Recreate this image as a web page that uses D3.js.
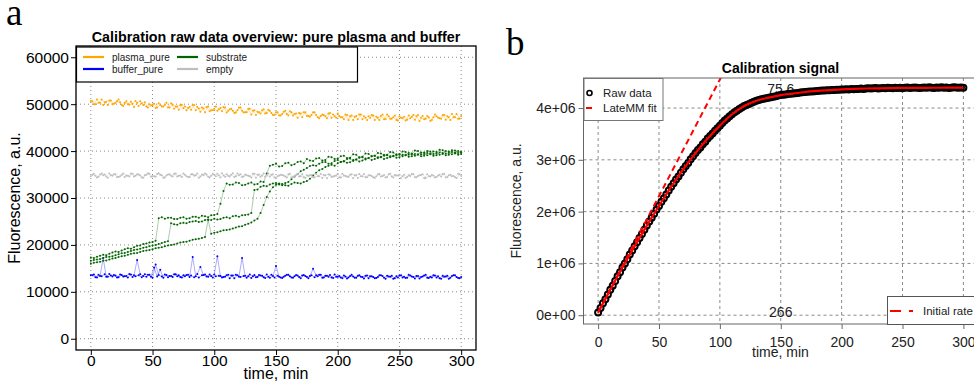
<!DOCTYPE html>
<html>
<head>
<meta charset="utf-8">
<script src="https://cdn.jsdelivr.net/npm/d3@7"></script>
<style>
  body { margin: 0; background: #fff; }
  svg { display: block; font-family: "Liberation Sans", Arial, sans-serif; }
</style>
</head>
<body>
<svg id="chart" width="974" height="383"></svg>
<script>
// ---------- panel a: raw calibration traces, 2.5 min reads, replicate wells ----------
const gridA = d3.range(0, 301, 2.5);     // 0 ... 300
const gridB = d3.range(1.25, 300, 2.5);  // 1.25 ... 298.75

const plasmaA = [50700,50000,51000,50300,49800,50500,50800,50000,50300,51000,
  49800,50300,50000,50500,49400,50300,50600,49800,49500,50000,
  49800,49200,50200,49500,49900,49300,50200,49000,49500,49800,
  49200,48700,49400,49800,48700,49100,49300,48300,49500,48700,
  49000,48600,49200,49400,48200,48900,48600,48200,49300,48600,
  48300,49000,47800,48700,48400,48000,48900,48100,48600,47700,
  48300,47600,47900,48600,47600,48300,47900,47100,48000,48300,
  47500,47300,48300,47700,47000,47800,47400,48000,47100,47400,
  48000,47200,46800,47700,47400,46600,47500,47800,46800,47100,
  47400,47700,46600,47100,47500,46800,47800,46900,47200,46600,
  47400,47000,46500,47600,47300,46700,47700,47100,46800,47500,
  46400,47200,47400,47000,47700,46700,47200,47900,47200,46900,
  47500];
const plasmaB = [50600,50000,50300,51000,50400,49800,50800,50100,50600,50400,
  49600,50600,49900,50100,50700,49600,50200,50400,49300,49700,
  50100,49300,49800,49500,50300,49300,49900,49500,48800,49900,
  49500,49200,48800,49800,49400,48400,49100,49400,48500,48700,
  49500,48900,48500,49300,48600,49000,48100,48700,49300,48200,
  48300,49000,48600,47700,48300,48700,48000,48800,48100,47700,
  48300,47600,48400,47900,48500,47600,48000,48100,47200,48300,
  47500,47700,48300,47200,47500,47700,47000,48100,47800,47100,
  47500,47200,47800,46600,47600,47300,46800,47800,47400,46600,
  47100,47600,47300,46600,47800,46800,47400,46900,47600,46500,
  47100,47300,46700,47000,47700,47400,46400,47500,46900,47200,
  46600,47800,47100,46900,47700,47400,46600,47200,47900,46900];

const bufferA = [13520,13700,13040,13400,17200,13220,13820,13280,13460,13100,
  13580,13340,13040,13700,13520,16800,13760,13400,13220,13640,
  12980,15800,13580,13280,13700,13100,13400,13760,13340,13160,
  13520,13580,13160,17400,13340,13040,13520,13700,13220,13400,
  13720,17600,13360,13180,13540,12880,13480,13660,13240,17200,
  13420,13300,12940,13600,13180,13480,13120,13720,13000,13360,
  15500,13240,12940,13420,13660,13060,13300,13480,12880,13600,
  13180,13360,14900,13540,13660,13000,13420,13240,13060,13720,
  13200,13080,13500,12840,13380,13260,13020,13560,13140,13440,
  12900,13320,12900,13140,13560,13020,13440,13200,12780,13320,
  13500,13080,12960,13620,13260,12840,13380,13140,13500,13020,
  13200,13560,13080,12900,13440,13260,12780,13380,13560,12960,
  13140];
const bufferB = [13520,13100,13640,13340,13760,13220,13460,13580,13040,13700,
  13280,13400,13820,13160,13340,13520,13100,13760,13640,13220,
  15200,13280,14700,12980,13580,13400,13160,13760,13520,13040,
  13340,13640,13460,13100,13820,15300,13580,13280,13700,13040,
  13300,13420,13060,13240,13660,13480,12880,13540,13180,13360,
  13000,13720,13300,13120,13600,13420,12940,13240,13660,13060,
  13420,13060,13240,13660,13300,13000,13600,13180,13480,13360,
  12880,13540,13120,13300,13660,13060,13420,13600,12940,13240,
  13380,12900,13260,13080,13620,13020,13440,13200,12840,13500,
  13320,13140,12960,13560,13380,12780,13260,13440,12900,13080,
  13560,13200,13020,13500,13140,13380,12840,13260,13620,12960,
  13080,13500,13320,12780,13200,13440,13020,13560,13140,12900];

const substrate1 = [17300,17200,17500,17700,17900,17800,18100,18400,18600,18500,
  18800,19100,19300,19200,19500,19800,19900,20200,20300,20500,
  20600,20900,25700,25900,25600,25800,25800,25500,25500,25800,
  25900,25600,25700,26000,26000,25800,26200,26100,25900,26300,
  26400,26600,28800,31500,33100,32800,32900,33300,33200,32700,
  32800,33100,33300,32900,33000,33500,33400,35200,36900,37100,
  37300,36700,36800,37400,37500,37000,37200,37700,37800,37400,
  38300,38000,37900,38400,38500,38000,38100,38800,38700,38300,
  38400,38900,39000,38500,38600,39300,39200,38700,38800,39500,
  39400,38900,39000,39600,39500,39000,39100,39800,39700,39100,
  39200,39900,39800,39200,39300,40100,40000,39300,39400,40000,
  39900,39400,39500,40300,40200,39500,39600,40200,40100,39600,
  39700];
const substrate2 = [16600,16800,16900,17000,17200,17400,17500,17600,17800,18000,
  18200,18300,18500,18700,18900,19000,19200,19400,19500,19700,
  19900,20000,20200,20400,20600,20800,24600,24400,24300,24600,
  24700,24600,24900,25000,25100,24900,25000,25300,25400,25300,
  25600,25400,25500,25800,25900,25700,26100,26200,26000,26300,
  26400,26500,26800,31700,31800,32400,32600,32500,32900,33100,
  33200,32900,32700,33200,33400,34000,34600,35100,35700,36000,
  36400,36800,37000,36900,37300,37600,37700,37300,37400,37900,
  38100,37700,37800,38300,38400,37900,38200,38600,38700,38200,
  38500,38900,39000,38500,38700,39200,39200,38700,38900,39300,
  39400,38900,39100,39600,39500,39000,39200,39700,39700,39100,
  39300,39900,39800,39200,39400,40000,39900,39300,39500,40000,
  39800];
const substrate3 = [16000,16200,16300,16400,16600,16700,16900,17100,17200,17400,
  17600,17700,17900,18100,18200,18300,18500,18700,18800,18900,
  19100,19300,19400,19500,19700,19900,20000,20100,20300,20500,
  20600,20700,20900,21100,21200,21300,21500,21700,25300,22400,
  22600,22700,22900,23100,23200,23300,23500,23700,23900,24000,
  24300,24500,24800,25200,25600,26800,28500,30200,31400,32300,
  32800,33100,33000,32700,32600,33000,33300,33200,33100,33400,
  33600,34100,34800,35400,35900,36200,36600,36900,37100,36900,
  37400,37700,37900,37500,37600,38100,38200,37800,38000,38400,
  38500,38100,38300,38700,38800,38300,38500,38900,39000,38600,
  38700,39200,39200,38800,38900,39400,39300,38900,39000,39600,
  39500,39000,39100,39700,39600,39100,39200,39800,39700,39200,
  39400];

const emptyA = [34660,35150,34380,35010,34870,34590,35220,34730,35080,34450,
  34940,34450,34730,35220,34590,35080,34800,34310,34940,35150,
  34660,34520,35290,34870,34380,35010,34730,35150,34590,34800,
  35220,34660,34450,35080,34870,34310,35010,35220,34520,34730,
  34940,35150,34380,34800,35080,34590,35290,34660,34870,34450,
  35010,34730,34380,35150,34940,34520,35220,34800,34590,35080,
  34210,34770,34910,34560,35050,34350,34700,35120,34630,34420,
  34840,34910,34420,35120,34630,34280,34840,35050,34490,34700,
  35190,34350,34770,34560,34980,34210,34910,35120,34630,34420,
  34840,34700,34280,35050,34560,34910,34490,35190,34350,34770,
  34980,34630,34280,34840,35120,34420,34700,34910,34210,35050,
  34560,34770,34490,34980,35120,34350,34840,34630,34420,35190,
  34700];
const emptyB = [34940,34730,34520,35220,35010,34310,34870,35080,34450,34660,
  35220,34800,34590,35150,34730,35010,34380,34870,35290,34520,
  34660,35150,34940,34310,34800,35080,34590,35220,34730,34450,
  34940,34450,35080,34730,35220,34590,34870,35010,34380,35150,
  34660,34800,35290,34520,34730,34940,34450,35220,35080,34590,
  34870,34660,35150,34310,35010,34800,34520,35220,34940,34380,
  34630,34980,34770,34350,35190,34490,34910,34560,35050,34280,
  34700,34840,34420,34630,35120,34910,34210,34980,34560,34770,
  34350,35190,34700,34490,35050,34840,34280,34630,35120,34420,
  34840,34420,34630,35120,34700,34350,35050,34560,34910,34770,
  34210,34980,34490,34700,35120,34420,34840,35050,34280,34630,
  34910,34350,34770,34560,35190,34490,34980,34700,34280,35050];

const seriesA = [
  { name: "plasma_pure", color: "#FFA500", reps: [[gridA, plasmaA], [gridB, plasmaB]] },
  { name: "buffer_pure", color: "#0000FF", reps: [[gridA, bufferA], [gridB, bufferB]] },
  { name: "substrate",   color: "#006400", reps: [[gridA, substrate1], [gridA, substrate2], [gridA, substrate3]] },
  { name: "empty",       color: "#BEBEBE", reps: [[gridA, emptyA], [gridB, emptyB]] }
];
const xTicksA = [0, 50, 100, 150, 200, 250, 300];
const yTicksA = [0, 10000, 20000, 30000, 40000, 50000, 60000];

// ---------- panel b: calibration signal (fluorescence in millions) ----------
const rawTime = d3.range(0, 301, 2);
const rawSignal = [
  0.05,0.14,0.23,0.31,0.40,0.49,0.57,0.66,0.75,0.83,
  0.92,1.00,1.08,1.17,1.25,1.33,1.41,1.49,1.57,1.65,
  1.73,1.81,1.88,1.96,2.04,2.11,2.19,2.26,2.33,2.41,
  2.48,2.55,2.62,2.68,2.75,2.82,2.88,2.94,3.01,3.07,
  3.13,3.19,3.24,3.30,3.35,3.41,3.46,3.51,3.56,3.61,
  3.66,3.71,3.76,3.80,3.84,3.88,3.92,3.95,3.98,4.01,
  4.04,4.06,4.08,4.10,4.12,4.14,4.155,4.17,4.18,4.19,
  4.20,4.21,4.22,4.23,4.24,4.25,4.255,4.26,4.27,4.275,
  4.28,4.285,4.29,4.30,4.305,4.31,4.315,4.32,4.32,4.325,
  4.33,4.335,4.34,4.34,4.345,4.345,4.35,4.35,4.355,4.355,
  4.36,4.36,4.365,4.36,4.37,4.365,4.37,4.37,4.375,4.37,
  4.375,4.38,4.375,4.38,4.385,4.375,4.38,4.385,4.38,4.39,
  4.385,4.38,4.39,4.385,4.39,4.38,4.39,4.395,4.385,4.39,
  4.395,4.39,4.385,4.39,4.395,4.39,4.40,4.39,4.385,4.395,
  4.39,4.40,4.39,4.395,4.385,4.39,4.40,4.395,4.39,4.395,
  4.39];
const fitTime = d3.range(0, 301, 10);
const fitSignal = [0.05,0.49,0.92,1.33,1.73,2.11,2.48,2.82,3.13,3.41,
  3.66,3.88,4.04,4.14,4.20,4.25,4.28,4.31,4.33,4.345,
  4.36,4.37,4.377,4.381,4.385,4.388,4.39,4.391,4.392,4.393,4.393];
const initTime = [0, 120];
const initSignal = [0.05, 5.45];
const notes = [{ t: 150, v: 4.37, text: "75.6" }, { t: 150, v: 0.06, text: "266" }];
const xTicksB = [0, 50, 100, 150, 200, 250, 300];
const yTicksB = [0, 1, 2, 3, 4];

const svg = d3.select("#chart");

// ================= panel a =================
const ax = d3.scaleLinear().domain([-12, 312]).range([76, 476]);
const ay = d3.scaleLinear().domain([-2400, 62400]).range([350, 46]);
const ga = svg.append("g");

ga.append("text").attr("x", 6).attr("y", 25)
  .style("font-family", "'Liberation Serif', 'DejaVu Serif', serif").style("font-size", "37px").text("a");

ga.append("g").selectAll("line").data(xTicksA).join("line")
  .attr("x1", d => ax(d)).attr("x2", d => ax(d)).attr("y1", 46).attr("y2", 350)
  .attr("stroke", "#8a8a8a").attr("stroke-dasharray", "1,3");
ga.append("g").selectAll("line").data(yTicksA).join("line")
  .attr("y1", d => ay(d)).attr("y2", d => ay(d)).attr("x1", 76).attr("x2", 476)
  .attr("stroke", "#8a8a8a").attr("stroke-dasharray", "1,3");

const lineA = d3.line().x(d => ax(d[0])).y(d => ay(d[1]));
seriesA.forEach(s => {
  const g = ga.append("g");
  s.reps.forEach(([ts, vs]) => {
    const pts = ts.map((t, i) => [t, vs[i]]);
    g.append("path").attr("d", lineA(pts)).attr("fill", "none")
      .attr("stroke", s.color).attr("stroke-width", 0.6).attr("stroke-opacity", 0.55);
    g.selectAll(null).data(pts).join("circle")
      .attr("cx", d => ax(d[0])).attr("cy", d => ay(d[1])).attr("r", 1).attr("fill", s.color);
  });
});

ga.append("rect").attr("x", 76).attr("y", 46).attr("width", 400).attr("height", 304)
  .attr("fill", "none").attr("stroke", "#000").attr("stroke-width", 1.3);

const axA = ga.append("g").attr("transform", "translate(0,350)")
  .call(d3.axisBottom(ax).tickValues(xTicksA).tickSize(5).tickPadding(0));
const ayA = ga.append("g").attr("transform", "translate(76,0)")
  .call(d3.axisLeft(ay).tickValues(yTicksA).tickSize(5).tickPadding(2).tickFormat(d3.format("d")));
[axA, ayA].forEach(g => {
  g.select(".domain").remove();
  g.selectAll("text").style("font-size", "15.5px").attr("fill", "#000").style("font-family", "'Liberation Sans', Arial, sans-serif");
  g.selectAll("line").attr("stroke", "#000");
});

ga.append("text").attr("x", 276).attr("y", 42).attr("text-anchor", "middle")
  .style("font-weight", "bold").style("font-size", "14.3px").text("Calibration raw data overview: pure plasma and buffer");
ga.append("text").attr("x", 276).attr("y", 379).attr("text-anchor", "middle")
  .style("font-size", "16px").text("time, min");
ga.append("text").attr("transform", "translate(20,198) rotate(-90)").attr("text-anchor", "middle")
  .style("font-size", "16px").text("Fluorescence, a.u.");

// legend a (column-major, 2 rows)
const legA = ga.append("g");
legA.append("rect").attr("x", 76.5).attr("y", 47).attr("width", 281).attr("height", 35)
  .attr("fill", "#fff").attr("stroke", "#000").attr("stroke-width", 1.2);
seriesA.forEach((s, i) => {
  const col = Math.floor(i / 2), row = i % 2;
  const x0 = col === 0 ? 83 : 177, y0 = 57 + row * 12;
  legA.append("line").attr("x1", x0).attr("x2", x0 + 21).attr("y1", y0).attr("y2", y0)
    .attr("stroke", s.color).attr("stroke-width", 2.2);
  legA.append("text").attr("x", x0 + 29).attr("y", y0).attr("dy", "0.35em")
    .style("font-size", "10px").attr("fill", "#222").text(s.name);
});

// ================= panel b =================
const bx = d3.scaleLinear().domain([-12, 312]).range([583.5, 978]);
const by = d3.scaleLinear().domain([-0.17, 4.58]).range([324, 78]);
const gb = svg.append("g");

gb.append("text").attr("x", 506).attr("y", 55)
  .style("font-family", "'Liberation Serif', 'DejaVu Serif', serif").style("font-size", "37px").text("b");

svg.append("clipPath").attr("id", "clipB").append("rect")
  .attr("x", 583.5).attr("y", 78).attr("width", 394.5).attr("height", 246);

gb.append("g").selectAll("line").data(xTicksB).join("line")
  .attr("x1", d => bx(d)).attr("x2", d => bx(d)).attr("y1", 78).attr("y2", 324)
  .attr("stroke", "#8a8a8a").attr("stroke-dasharray", "3,3");
gb.append("g").selectAll("line").data(yTicksB).join("line")
  .attr("y1", d => by(d)).attr("y2", d => by(d)).attr("x1", 583.5).attr("x2", 978)
  .attr("stroke", "#8a8a8a").attr("stroke-dasharray", "3,3");

gb.append("g").selectAll("text").data(notes).join("text")
  .attr("x", d => bx(d.t)).attr("y", d => by(d.v)).attr("dy", "0.35em").attr("text-anchor", "middle")
  .style("font-size", "14px").attr("fill", "#222").text(d => d.text);

const plotB = gb.append("g").attr("clip-path", "url(#clipB)");
plotB.selectAll("circle").data(rawTime.map((t, i) => [t, rawSignal[i]])).join("circle")
  .attr("cx", d => bx(d[0])).attr("cy", d => by(d[1])).attr("r", 3)
  .attr("fill", "none").attr("stroke", "#000").attr("stroke-width", 2);
plotB.append("path")
  .attr("d", d3.line().x(d => bx(d[0])).y(d => by(d[1])).curve(d3.curveMonotoneX)(fitTime.map((t, i) => [t, fitSignal[i]])))
  .attr("fill", "none").attr("stroke", "#FF0000").attr("stroke-width", 2.2);
plotB.append("path")
  .attr("d", d3.line().x(d => bx(d[0])).y(d => by(d[1]))(initTime.map((t, i) => [t, initSignal[i]])))
  .attr("fill", "none").attr("stroke", "#FF0000").attr("stroke-width", 2).attr("stroke-dasharray", "6,4");

gb.append("rect").attr("x", 583.5).attr("y", 78).attr("width", 394.5).attr("height", 246)
  .attr("fill", "none").attr("stroke", "#666").attr("stroke-width", 1);

const axB = gb.append("g").attr("transform", "translate(0,324)")
  .call(d3.axisBottom(bx).tickValues(xTicksB).tickSize(5).tickPadding(8));
const ayB = gb.append("g").attr("transform", "translate(583.5,0)")
  .call(d3.axisLeft(by).tickValues(yTicksB).tickSize(5).tickPadding(3)
    .tickFormat(d => d === 0 ? "0e+00" : d + "e+06"));
[axB, ayB].forEach(g => {
  g.select(".domain").remove();
  g.selectAll("text").style("font-size", "14px").attr("fill", "#222").style("font-family", "'Liberation Sans', Arial, sans-serif");
  g.selectAll("line").attr("stroke", "#666");
});

gb.append("text").attr("x", 780.5).attr("y", 73).attr("text-anchor", "middle")
  .style("font-weight", "bold").style("font-size", "14px").text("Calibration signal");
gb.append("text").attr("x", 780.5).attr("y", 357).attr("text-anchor", "middle")
  .style("font-size", "14px").attr("fill", "#222").text("time, min");
gb.append("text").attr("transform", "translate(521,201) rotate(-90)").attr("text-anchor", "middle")
  .style("font-size", "14px").attr("fill", "#222").text("Fluorescence, a.u.");

// legend b, top left
const legB = gb.append("g");
legB.append("rect").attr("x", 584).attr("y", 78.5).attr("width", 79).attr("height", 42)
  .attr("fill", "#fff").attr("stroke", "#777");
legB.append("circle").attr("cx", 589.5).attr("cy", 93).attr("r", 2.5)
  .attr("fill", "none").attr("stroke", "#000").attr("stroke-width", 1.6);
legB.append("line").attr("x1", 586).attr("x2", 592).attr("y1", 108).attr("y2", 108)
  .attr("stroke", "#FF0000").attr("stroke-width", 2);
legB.append("text").attr("x", 603).attr("y", 93).attr("dy", "0.35em").style("font-size", "11.5px").attr("fill", "#222").text("Raw data");
legB.append("text").attr("x", 603).attr("y", 108).attr("dy", "0.35em").style("font-size", "11.5px").attr("fill", "#222").text("LateMM fit");

// legend b, bottom right
const legB2 = gb.append("g");
legB2.append("rect").attr("x", 887.5).attr("y", 296.5).attr("width", 100).attr("height", 28)
  .attr("fill", "#fff").attr("stroke", "#555");
legB2.append("line").attr("x1", 890).attr("x2", 913).attr("y1", 311).attr("y2", 311)
  .attr("stroke", "#FF0000").attr("stroke-width", 2.2).attr("stroke-dasharray", "11,8");
legB2.append("text").attr("x", 923).attr("y", 311).attr("dy", "0.35em").style("font-size", "11.5px").attr("fill", "#222").text("Initial rate");
</script>
</body>
</html>
